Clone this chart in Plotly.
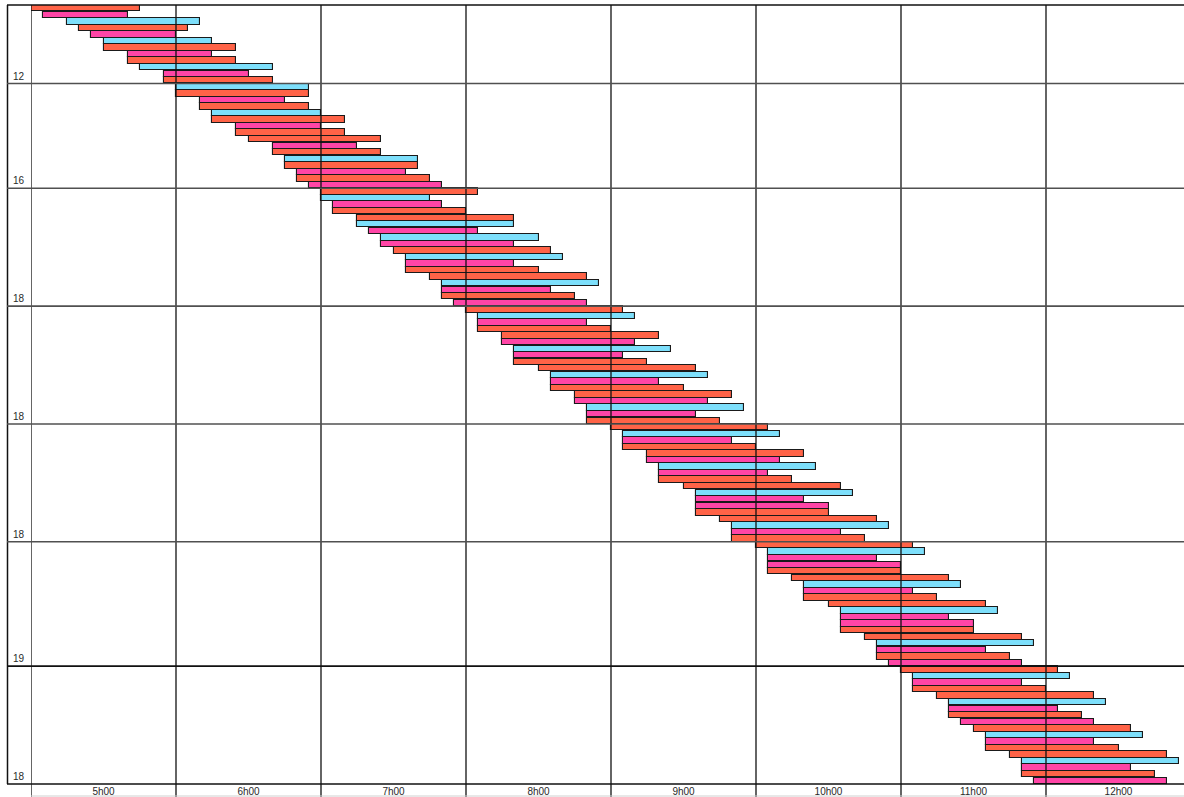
import plotly.graph_objects as go

# ---------------- data ----------------
group_labels = ["12", "16", "18", "18", "18", "19", "18"]
group_sizes = [12, 16, 18, 18, 18, 19, 18]

hour_ticks = [5, 6, 7, 8, 9, 10, 11, 12]
hour_labels = ["5h00", "6h00", "7h00", "8h00", "9h00", "10h00", "11h00", "12h00"]

# bar category per row: O = orange, P = pink, B = blue
row_kind = [
    "O", "P", "B", "O", "P", "B", "O", "P", "O", "B", "P", "O",
    "B", "O", "P", "O", "B", "O", "P", "O", "O", "P", "O", "B", "O", "P", "O", "P",
    "O", "B", "P", "O", "O", "B", "P", "B", "P", "O", "B", "P", "O", "O", "B", "P", "O", "P",
    "O", "B", "P", "O", "O", "P", "B", "P", "O", "O", "B", "P", "O", "O", "P", "B", "P", "O",
    "O", "B", "P", "O", "O", "P", "B", "P", "O", "O", "B", "P", "P", "O", "O", "B", "P", "O",
    "O", "B", "P", "P", "O", "O", "B", "P", "O", "O", "B", "P", "P", "O", "O", "B", "P", "O", "P",
    "O", "B", "P", "O", "O", "B", "P", "O", "P", "O", "B", "P", "O", "O", "B", "P", "O", "P",
]

start_times = [
    "5:00", "5:05", "5:15", "5:20", "5:25", "5:30", "5:30", "5:40", "5:40", "5:45", "5:55", "5:55",
    "6:00", "6:00", "6:10", "6:10", "6:15", "6:15", "6:25", "6:25", "6:30", "6:40", "6:40", "6:45",
    "6:45", "6:50", "6:50", "6:55",
    "7:00", "7:00", "7:05", "7:05", "7:15", "7:15", "7:20", "7:25", "7:25", "7:30", "7:35", "7:35",
    "7:35", "7:45", "7:50", "7:50", "7:50", "7:55",
    "8:00", "8:05", "8:05", "8:05", "8:15", "8:15", "8:20", "8:20", "8:20", "8:30", "8:35", "8:35",
    "8:35", "8:45", "8:45", "8:50", "8:50", "8:50",
    "9:00", "9:05", "9:05", "9:05", "9:15", "9:15", "9:20", "9:20", "9:20", "9:30", "9:35", "9:35",
    "9:35", "9:35", "9:45", "9:50", "9:50", "9:50",
    "10:00", "10:05", "10:05", "10:05", "10:05", "10:15", "10:20", "10:20", "10:20", "10:30",
    "10:35", "10:35", "10:35", "10:35", "10:45", "10:50", "10:50", "10:50", "10:55",
    "11:00", "11:05", "11:05", "11:05", "11:15", "11:20", "11:20", "11:20", "11:25", "11:30",
    "11:35", "11:35", "11:35", "11:45", "11:50", "11:50", "11:50", "11:55",
]

end_times = [
    "5:45", "5:40", "6:10", "6:05", "6:00", "6:15", "6:25", "6:15", "6:25", "6:40", "6:30", "6:40",
    "6:55", "6:55", "6:45", "6:55", "7:00", "7:10", "7:00", "7:10", "7:25", "7:15", "7:25", "7:40",
    "7:40", "7:35", "7:45", "7:50",
    "8:05", "7:45", "7:50", "8:00", "8:20", "8:20", "8:05", "8:30", "8:20", "8:35", "8:40", "8:20",
    "8:30", "8:50", "8:55", "8:35", "8:45", "8:50",
    "9:05", "9:10", "8:50", "9:00", "9:20", "9:10", "9:25", "9:05", "9:15", "9:35", "9:40", "9:20",
    "9:30", "9:50", "9:40", "9:55", "9:35", "9:45",
    "10:05", "10:10", "9:50", "10:00", "10:20", "10:10", "10:25", "10:05", "10:15", "10:35",
    "10:40", "10:20", "10:30", "10:30", "10:50", "10:55", "10:35", "10:45",
    "11:05", "11:10", "10:50", "11:00", "11:00", "11:20", "11:25", "11:05", "11:15", "11:35",
    "11:40", "11:20", "11:30", "11:30", "11:50", "11:55", "11:35", "11:45", "11:50",
    "12:05", "12:10", "11:50", "12:00", "12:20", "12:25", "12:05", "12:15", "12:20", "12:35",
    "12:40", "12:20", "12:30", "12:50", "12:55", "12:35", "12:45", "12:50",
]

kind_colors = {"O": "#FF6347", "P": "#FF45A6", "B": "#7DDFFB"}

# ---------------- helpers ----------------
def to_hours(t):
    h, m = t.split(":")
    return int(h) + int(m) / 60.0

n_rows = len(row_kind)
starts = [to_hours(t) for t in start_times]
ends = [to_hours(t) for t in end_times]

# ---------------- figure ----------------
W, H = 1184, 797
ML, MR, MT, MB = 31, 0, 5, 13
PW, PH = W - ML - MR, H - MT - MB
x_min = 5.0
x_max = x_min + PW / 145.0

fig = go.Figure()
for k in ["O", "P", "B"]:
    idx = [i for i in range(n_rows) if row_kind[i] == k]
    fig.add_trace(go.Bar(
        orientation="h",
        y=idx,
        base=[starts[i] for i in idx],
        x=[ends[i] - starts[i] for i in idx],
        width=0.97,
        marker=dict(color=kind_colors[k], line=dict(color="#1a1a1a", width=1.1)),
        showlegend=False,
        hoverinfo="skip",
    ))

def px_x(px):
    return (px - ML) / PW

def px_y(py):
    return 1 - (py - MT) / PH

shapes = []
# vertical hour lines (extend through label strip)
for h in hour_ticks:
    shapes.append(dict(type="line", xref="x", yref="paper", x0=h, x1=h,
                       y0=px_y(797), y1=1, layer="above",
                       line=dict(color="#111", width=1.3)))
# left label column border
shapes.append(dict(type="line", xref="paper", yref="paper", x0=px_x(7.5), x1=px_x(7.5),
                   y0=0, y1=1, layer="above", line=dict(color="#111", width=1.5)))
# top and bottom borders
shapes.append(dict(type="line", xref="paper", yref="paper", x0=px_x(7), x1=1,
                   y0=1, y1=1, layer="above", line=dict(color="#111", width=1.5)))
shapes.append(dict(type="line", xref="paper", yref="paper", x0=px_x(7), x1=1,
                   y0=0, y1=0, layer="above", line=dict(color="#111", width=1.5)))
# bottom of label strip
shapes.append(dict(type="line", xref="paper", yref="paper", x0=0, x1=1,
                   y0=px_y(796), y1=px_y(796), layer="above", line=dict(color="#d0d0d0", width=1)))
# group separators
cum = 0
annotations = []
for gi, (lab, size) in enumerate(zip(group_labels, group_sizes)):
    cum += size
    yb = 1 - cum / n_rows
    if cum < n_rows:
        col = "#111" if gi == 5 else "#505050"
        shapes.append(dict(type="line", xref="paper", yref="paper", x0=px_x(7), x1=1,
                           y0=yb, y1=yb, layer="above", line=dict(color=col, width=1.6)))
    annotations.append(dict(text=lab, xref="paper", yref="paper", x=px_x(19), y=yb,
                            xanchor="center", yanchor="bottom", yshift=0, showarrow=False,
                            font=dict(family="Liberation Sans, Arial", size=10, color="#2a2a2a")))

fig.update_layout(
    width=W, height=H,
    margin=dict(l=ML, r=MR, t=MT, b=MB, pad=0),
    paper_bgcolor="white", plot_bgcolor="white",
    barmode="overlay", bargap=0,
    shapes=shapes, annotations=annotations,
    xaxis=dict(range=[x_min, x_max], showgrid=False, zeroline=False, showline=False,
               tickmode="array", tickvals=[h + 0.5 for h in hour_ticks], ticktext=hour_labels,
               ticks="", ticklen=0,
               tickfont=dict(family="Liberation Sans, Arial", size=10, color="#2a2a2a")),
    yaxis=dict(range=[n_rows - 0.5, -0.5], showgrid=False, zeroline=False, showline=False,
               showticklabels=False, ticks=""),
)

fig.write_html("out.html",
               config={"displayModeBar": False},
               post_script="document.body.style.margin='0px';document.body.style.overflow='hidden';")
